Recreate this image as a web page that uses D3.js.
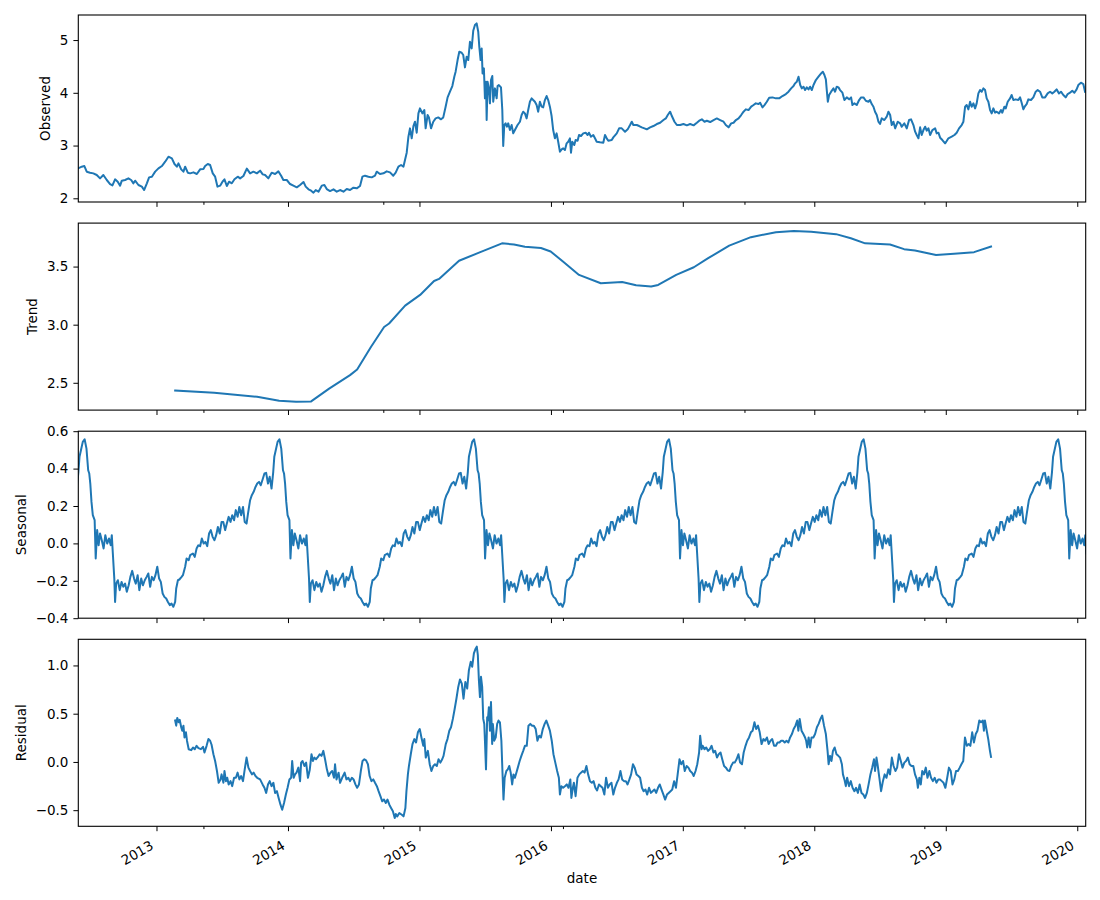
<!DOCTYPE html>
<html>
<head>
<meta charset="utf-8">
<script src="https://cdn.jsdelivr.net/npm/d3@7"></script>
<style>
  body { margin: 0; background: #fff; }
  svg { font-family: "DejaVu Sans", sans-serif; }
</style>
</head>
<body>
<svg id="chart"></svg>
<script>
// values, [decimal year, value]
const observedPoints = [
  [2012.407,2.568],[2012.433,2.600],[2012.453,2.612],[2012.471,2.505],[2012.496,2.486],[2012.521,2.473],[2012.547,2.442],[2012.572,2.378],[2012.597,2.442],[2012.623,2.347],[2012.648,2.271],[2012.666,2.246],[2012.686,2.360],[2012.706,2.315],[2012.724,2.240],[2012.737,2.334],[2012.762,2.347],[2012.787,2.378],[2012.808,2.347],[2012.825,2.284],[2012.838,2.334],[2012.863,2.252],[2012.889,2.221],[2012.906,2.157],[2012.927,2.284],[2012.944,2.397],[2012.965,2.410],[2012.990,2.505],
  [2013.015,2.568],[2013.041,2.612],[2013.066,2.694],[2013.091,2.789],[2013.117,2.757],[2013.137,2.650],[2013.155,2.600],[2013.167,2.663],[2013.188,2.549],[2013.205,2.505],[2013.218,2.600],[2013.238,2.486],[2013.256,2.473],[2013.281,2.492],[2013.307,2.461],[2013.332,2.549],[2013.357,2.555],[2013.370,2.612],[2013.390,2.650],[2013.408,2.631],[2013.428,2.473],[2013.446,2.410],[2013.464,2.221],[2013.484,2.240],[2013.502,2.315],[2013.517,2.360],[2013.535,2.233],[2013.552,2.315],[2013.573,2.284],[2013.593,2.360],[2013.618,2.410],[2013.636,2.378],[2013.661,2.423],[2013.687,2.562],[2013.712,2.473],[2013.737,2.505],[2013.763,2.473],[2013.788,2.524],[2013.808,2.454],[2013.826,2.442],[2013.851,2.378],[2013.876,2.486],[2013.902,2.461],[2013.927,2.511],[2013.948,2.429],[2013.965,2.347],[2013.991,2.347],
  [2014.016,2.271],[2014.041,2.240],[2014.067,2.208],[2014.092,2.252],[2014.118,2.309],[2014.135,2.221],[2014.156,2.170],[2014.176,2.145],[2014.194,2.107],[2014.211,2.157],[2014.232,2.126],[2014.257,2.240],[2014.277,2.252],[2014.295,2.176],[2014.320,2.138],[2014.346,2.170],[2014.371,2.126],[2014.396,2.157],[2014.422,2.126],[2014.447,2.176],[2014.472,2.157],[2014.498,2.202],[2014.523,2.189],[2014.548,2.233],[2014.566,2.410],[2014.586,2.429],[2014.612,2.410],[2014.637,2.397],[2014.662,2.429],[2014.675,2.505],[2014.700,2.461],[2014.726,2.473],[2014.751,2.511],[2014.776,2.492],[2014.801,2.429],[2014.819,2.486],[2014.840,2.600],[2014.860,2.631],[2014.878,2.600],[2014.890,2.726],[2014.903,2.865],[2014.916,3.168],[2014.928,3.326],[2014.941,3.137],[2014.954,3.370],[2014.966,3.452],[2014.979,3.244],[2014.992,3.610],
  [2015.004,3.705],[2015.022,3.610],[2015.037,3.673],[2015.047,3.326],[2015.062,3.579],[2015.072,3.534],[2015.088,3.326],[2015.105,3.452],[2015.123,3.515],[2015.143,3.534],[2015.164,3.497],[2015.181,3.534],[2015.199,3.737],[2015.214,3.913],[2015.232,4.021],[2015.250,4.128],[2015.265,4.305],[2015.275,4.400],[2015.290,4.621],[2015.303,4.779],[2015.321,4.760],[2015.333,4.716],[2015.346,4.482],[2015.359,4.684],[2015.371,4.621],[2015.384,4.968],[2015.397,4.842],[2015.409,5.177],[2015.422,5.284],[2015.435,5.316],[2015.447,5.158],[2015.455,4.874],[2015.465,4.621],[2015.473,4.842],[2015.480,4.368],[2015.490,4.463],[2015.498,3.895],[2015.506,4.210],[2015.511,3.484],[2015.518,4.210],[2015.528,4.084],[2015.536,3.800],[2015.544,4.242],[2015.554,4.318],[2015.561,3.831],[2015.574,4.084],[2015.587,3.895],[2015.594,4.128],[2015.604,4.147],[2015.620,4.103],[2015.630,3.673],[2015.637,2.991],[2015.645,3.389],[2015.655,3.421],[2015.665,3.357],[2015.675,3.421],[2015.688,3.294],[2015.701,3.389],[2015.713,3.231],[2015.726,3.294],[2015.746,3.389],[2015.764,3.452],[2015.777,3.579],[2015.789,3.642],[2015.802,3.610],[2015.815,3.515],[2015.827,3.673],[2015.840,3.831],[2015.853,3.895],[2015.865,3.863],[2015.878,3.831],[2015.891,3.768],[2015.903,3.642],[2015.916,3.831],[2015.929,3.737],[2015.941,3.724],[2015.954,3.863],[2015.967,3.939],[2015.979,3.863],[2015.992,3.737],
  [2016.005,3.560],[2016.017,3.294],[2016.030,3.137],[2016.043,3.231],[2016.055,3.073],[2016.068,2.884],[2016.081,2.928],[2016.093,2.947],[2016.106,2.915],[2016.119,3.042],[2016.131,3.073],[2016.144,3.137],[2016.152,2.865],[2016.162,3.073],[2016.177,3.010],[2016.187,3.105],[2016.202,3.092],[2016.213,3.200],[2016.228,3.181],[2016.245,3.231],[2016.263,3.244],[2016.278,3.200],[2016.288,3.244],[2016.304,3.168],[2016.321,3.200],[2016.334,3.137],[2016.347,3.073],[2016.372,3.061],[2016.397,3.054],[2016.410,3.200],[2016.423,3.137],[2016.435,3.092],[2016.461,3.105],[2016.473,3.155],[2016.499,3.231],[2016.517,3.326],[2016.537,3.326],[2016.562,3.263],[2016.582,3.307],[2016.600,3.389],[2016.613,3.452],[2016.625,3.389],[2016.651,3.389],[2016.669,3.370],[2016.689,3.345],[2016.709,3.326],[2016.727,3.307],[2016.752,3.345],[2016.777,3.370],[2016.803,3.408],[2016.828,3.433],[2016.853,3.484],[2016.871,3.515],[2016.886,3.579],[2016.904,3.642],[2016.917,3.560],[2016.937,3.452],[2016.955,3.389],[2016.980,3.389],
  [2017.005,3.408],[2017.031,3.383],[2017.056,3.408],[2017.082,3.383],[2017.107,3.433],[2017.125,3.471],[2017.145,3.497],[2017.165,3.452],[2017.183,3.471],[2017.208,3.446],[2017.234,3.484],[2017.259,3.515],[2017.284,3.484],[2017.310,3.452],[2017.327,3.389],[2017.348,3.345],[2017.368,3.421],[2017.386,3.433],[2017.404,3.484],[2017.424,3.515],[2017.444,3.579],[2017.462,3.642],[2017.479,3.686],[2017.500,3.673],[2017.520,3.737],[2017.538,3.768],[2017.555,3.800],[2017.576,3.787],[2017.588,3.812],[2017.606,3.724],[2017.621,3.768],[2017.639,3.831],[2017.657,3.907],[2017.682,3.913],[2017.708,3.895],[2017.733,3.895],[2017.758,3.939],[2017.784,3.977],[2017.804,4.021],[2017.824,4.084],[2017.842,4.128],[2017.854,4.179],[2017.867,4.210],[2017.880,4.305],[2017.893,4.147],[2017.905,4.084],[2017.918,4.116],[2017.930,4.052],[2017.943,4.103],[2017.956,4.065],[2017.968,4.116],[2017.981,4.052],[2017.994,4.147],
  [2018.012,4.242],[2018.032,4.305],[2018.052,4.368],[2018.065,4.400],[2018.077,4.337],[2018.088,4.255],[2018.095,4.052],[2018.103,3.831],[2018.113,3.958],[2018.128,4.021],[2018.146,4.084],[2018.158,4.021],[2018.171,4.116],[2018.184,4.103],[2018.196,4.052],[2018.214,4.002],[2018.229,3.863],[2018.247,3.913],[2018.265,3.876],[2018.280,3.913],[2018.290,3.768],[2018.305,3.800],[2018.323,3.768],[2018.341,3.863],[2018.356,3.913],[2018.374,3.913],[2018.392,3.850],[2018.412,3.831],[2018.424,3.863],[2018.437,3.787],[2018.450,3.737],[2018.462,3.642],[2018.475,3.579],[2018.488,3.452],[2018.500,3.408],[2018.513,3.515],[2018.533,3.484],[2018.551,3.547],[2018.564,3.642],[2018.577,3.579],[2018.589,3.389],[2018.602,3.452],[2018.615,3.326],[2018.635,3.452],[2018.653,3.421],[2018.665,3.357],[2018.685,3.421],[2018.703,3.326],[2018.721,3.484],[2018.736,3.497],[2018.754,3.389],[2018.767,3.263],[2018.779,3.200],[2018.792,3.137],[2018.805,3.345],[2018.817,3.200],[2018.830,3.294],[2018.843,3.357],[2018.855,3.282],[2018.868,3.326],[2018.881,3.200],[2018.898,3.294],[2018.919,3.326],[2018.931,3.231],[2018.944,3.244],[2018.957,3.149],[2018.974,3.105],[2018.995,3.042],
  [2019.007,3.086],[2019.020,3.137],[2019.045,3.168],[2019.066,3.200],[2019.083,3.244],[2019.101,3.326],[2019.121,3.389],[2019.134,3.452],[2019.147,3.737],[2019.159,3.768],[2019.172,3.686],[2019.185,3.831],[2019.197,3.737],[2019.210,3.800],[2019.223,3.705],[2019.235,3.800],[2019.248,3.989],[2019.261,4.052],[2019.273,4.021],[2019.286,4.084],[2019.299,4.052],[2019.311,3.895],[2019.324,3.831],[2019.337,3.673],[2019.349,3.610],[2019.362,3.705],[2019.375,3.623],[2019.387,3.642],[2019.405,3.610],[2019.420,3.673],[2019.430,3.623],[2019.446,3.737],[2019.456,3.705],[2019.471,3.831],[2019.489,3.895],[2019.501,3.958],[2019.514,3.863],[2019.532,3.876],[2019.552,3.863],[2019.565,3.913],[2019.577,3.812],[2019.590,3.686],[2019.603,3.749],[2019.615,3.787],[2019.628,3.876],[2019.648,3.863],[2019.666,3.913],[2019.684,4.021],[2019.699,4.052],[2019.717,4.021],[2019.734,3.913],[2019.755,3.913],[2019.775,3.989],[2019.793,4.021],[2019.810,3.989],[2019.826,4.021],[2019.843,4.065],[2019.861,3.989],[2019.876,4.021],[2019.894,3.958],[2019.912,3.913],[2019.927,3.977],[2019.945,4.002],[2019.962,4.040],[2019.978,4.002],[2019.995,4.065],
  [2020.008,4.147],[2020.028,4.191],[2020.046,4.166],[2020.059,4.021]
];

const trendPoints = [
  [2013.142,2.434],[2013.439,2.414],[2013.765,2.380],[2013.933,2.345],[2014.062,2.336],[2014.176,2.340],[2014.313,2.450],[2014.472,2.566],[2014.526,2.615],[2014.632,2.810],[2014.731,2.980],[2014.769,3.010],[2014.891,3.164],
  [2015.005,3.256],[2015.111,3.376],[2015.149,3.394],[2015.301,3.550],[2015.453,3.620],[2015.628,3.700],[2015.719,3.690],[2015.802,3.670],[2015.924,3.660],[2015.998,3.630],
  [2016.091,3.543],[2016.213,3.428],[2016.378,3.356],[2016.540,3.368],[2016.646,3.340],[2016.760,3.328],[2016.813,3.342],[2016.950,3.428],
  [2017.084,3.494],[2017.193,3.572],[2017.353,3.680],[2017.518,3.753],[2017.708,3.796],[2017.844,3.807],[2017.976,3.800],
  [2018.166,3.779],[2018.278,3.744],[2018.387,3.700],[2018.576,3.690],[2018.683,3.650],[2018.766,3.638],[2018.926,3.600],
  [2019.063,3.610],[2019.215,3.624],[2019.344,3.672]
];

// one period of the seasonal component: [years after its peak, value]
const seasonalCycle = [
  [0.000,0.557],[0.014,0.507],[0.027,0.391],[0.035,0.374],[0.043,0.320],[0.052,0.222],[0.062,0.151],[0.076,0.124],[0.084,-0.081],[0.095,0.071],[0.106,-0.010],[0.117,0.053],[0.130,0.017],[0.144,-0.027],[0.157,0.044],[0.171,-0.001],[0.185,0.026],[0.198,-0.010],[0.206,0.044],[0.214,-0.054],[0.225,-0.188],[0.231,-0.313],[0.239,-0.215],[0.252,-0.197],[0.266,-0.250],[0.280,-0.206],[0.293,-0.232],[0.307,-0.215],[0.320,-0.259],[0.334,-0.224],[0.347,-0.179],[0.361,-0.147],[0.375,-0.188],[0.388,-0.215],[0.402,-0.170],[0.415,-0.250],[0.429,-0.188],[0.442,-0.224],[0.456,-0.197],[0.470,-0.179],[0.483,-0.161],[0.497,-0.232],[0.510,-0.179],[0.524,-0.197],[0.537,-0.170],[0.551,-0.125],[0.565,-0.188],[0.578,-0.206],[0.592,-0.268],[0.605,-0.286],[0.619,-0.295],[0.632,-0.313],[0.646,-0.330],[0.660,-0.322],[0.673,-0.339],[0.687,-0.313],[0.695,-0.241],[0.708,-0.197],[0.719,-0.193],[0.736,-0.179],[0.746,-0.170],[0.763,-0.125],[0.774,-0.081],[0.790,-0.090],[0.801,-0.063],[0.822,-0.054],[0.836,-0.072],[0.850,-0.027],[0.863,-0.010],[0.877,-0.015],[0.890,0.026],[0.904,-0.001],[0.917,0.008],[0.931,-0.015],[0.945,0.053],[0.958,0.071],[0.972,0.035],[0.986,0.017],[0.999,0.044],[1.012,0.088],[1.026,0.053],[1.040,0.115],[1.053,0.115],[1.067,0.071],[1.080,0.106],[1.094,0.142],[1.108,0.115],[1.121,0.151],[1.135,0.124],[1.148,0.178],[1.162,0.142],[1.175,0.195],[1.189,0.151],[1.203,0.195],[1.216,0.115],[1.230,0.106],[1.243,0.169],[1.257,0.231],[1.270,0.258],[1.284,0.276],[1.298,0.302],[1.311,0.320],[1.325,0.329],[1.338,0.311],[1.352,0.342],[1.366,0.374],[1.379,0.377],[1.393,0.320],[1.406,0.356],[1.420,0.293],[1.433,0.383],[1.441,0.463],[1.452,0.498],[1.466,0.543]
];
const seasonalFirstPeak = 2012.455;
const seasonalPeriod = 1.48;

const residualPoints = [
  [2013.142,0.429],[2013.150,0.376],[2013.158,0.456],[2013.169,0.411],[2013.177,0.436],[2013.188,0.359],[2013.196,0.324],[2013.205,0.376],[2013.213,0.254],[2013.224,0.307],[2013.232,0.220],[2013.245,0.132],[2013.264,0.122],[2013.278,0.150],[2013.291,0.132],[2013.305,0.167],[2013.319,0.143],[2013.338,0.132],[2013.354,0.157],[2013.365,0.098],[2013.381,0.167],[2013.395,0.237],[2013.408,0.220],[2013.419,0.178],[2013.433,0.080],[2013.446,0.010],[2013.460,-0.094],[2013.473,-0.216],[2013.487,-0.181],[2013.495,-0.129],[2013.509,-0.216],[2013.517,-0.094],[2013.528,-0.199],[2013.538,-0.164],[2013.549,-0.233],[2013.563,-0.199],[2013.576,-0.251],[2013.590,-0.164],[2013.604,-0.164],[2013.617,-0.111],[2013.631,-0.181],[2013.644,-0.146],[2013.658,-0.199],[2013.671,-0.077],[2013.685,0.045],[2013.699,-0.059],[2013.712,-0.094],[2013.726,-0.129],[2013.739,-0.111],[2013.753,-0.146],[2013.766,-0.164],[2013.788,-0.181],[2013.807,-0.233],[2013.821,-0.268],[2013.834,-0.321],[2013.848,-0.233],[2013.861,-0.199],[2013.875,-0.251],[2013.889,-0.216],[2013.902,-0.321],[2013.916,-0.303],[2013.929,-0.373],[2013.943,-0.443],[2013.956,-0.495],[2013.970,-0.425],[2013.984,-0.338],[2013.997,-0.268],
  [2014.011,-0.181],[2014.024,-0.164],[2014.032,0.010],[2014.043,-0.164],[2014.054,-0.129],[2014.065,-0.111],[2014.079,-0.059],[2014.092,-0.199],[2014.100,-0.007],[2014.111,0.010],[2014.125,-0.042],[2014.138,-0.007],[2014.152,-0.164],[2014.165,-0.087],[2014.179,0.080],[2014.190,0.010],[2014.201,0.045],[2014.214,0.028],[2014.228,0.052],[2014.241,0.080],[2014.255,0.063],[2014.269,0.115],[2014.282,0.028],[2014.296,-0.077],[2014.309,-0.146],[2014.323,-0.111],[2014.336,-0.094],[2014.350,-0.164],[2014.358,-0.024],[2014.369,-0.181],[2014.385,-0.111],[2014.396,-0.216],[2014.412,-0.164],[2014.431,-0.111],[2014.445,-0.181],[2014.459,-0.164],[2014.472,-0.199],[2014.486,-0.164],[2014.499,-0.181],[2014.513,-0.233],[2014.526,-0.268],[2014.540,-0.233],[2014.554,-0.094],[2014.567,0.010],[2014.581,0.028],[2014.594,0.017],[2014.608,-0.024],[2014.621,-0.146],[2014.635,-0.199],[2014.649,-0.181],[2014.662,-0.216],[2014.676,-0.251],[2014.689,-0.303],[2014.703,-0.355],[2014.717,-0.408],[2014.730,-0.390],[2014.744,-0.425],[2014.757,-0.390],[2014.771,-0.443],[2014.784,-0.477],[2014.798,-0.512],[2014.812,-0.582],[2014.820,-0.540],[2014.831,-0.564],[2014.847,-0.530],[2014.866,-0.547],[2014.879,-0.564],[2014.893,-0.477],[2014.901,-0.303],[2014.912,-0.129],[2014.920,-0.042],[2014.934,0.080],[2014.947,0.185],[2014.961,0.237],[2014.974,0.202],[2014.988,0.307],
  [2015.002,0.341],[2015.015,0.254],[2015.029,0.167],[2015.037,0.237],[2015.048,0.045],[2015.064,0.115],[2015.078,-0.024],[2015.091,-0.094],[2015.105,-0.042],[2015.118,-0.024],[2015.132,-0.042],[2015.145,0.028],[2015.159,-0.007],[2015.173,0.028],[2015.183,0.063],[2015.200,0.185],[2015.213,0.237],[2015.227,0.324],[2015.240,0.359],[2015.254,0.446],[2015.268,0.551],[2015.281,0.655],[2015.295,0.777],[2015.308,0.854],[2015.322,0.812],[2015.335,0.655],[2015.349,0.829],[2015.363,0.760],[2015.376,0.951],[2015.390,1.038],[2015.401,0.986],[2015.414,1.125],[2015.425,1.167],[2015.436,1.195],[2015.444,1.108],[2015.452,0.847],[2015.460,0.672],[2015.468,0.882],[2015.477,0.777],[2015.485,0.446],[2015.493,0.394],[2015.498,0.220],[2015.506,-0.077],[2015.515,0.463],[2015.520,0.429],[2015.528,0.568],[2015.536,0.324],[2015.544,0.620],[2015.553,0.185],[2015.558,0.394],[2015.569,0.220],[2015.580,0.254],[2015.591,0.394],[2015.601,0.429],[2015.612,0.411],[2015.623,0.220],[2015.631,-0.094],[2015.639,-0.390],[2015.648,-0.164],[2015.661,-0.094],[2015.672,-0.077],[2015.683,-0.042],[2015.694,-0.111],[2015.705,-0.233],[2015.715,-0.129],[2015.726,-0.164],[2015.737,-0.111],[2015.748,-0.059],[2015.762,0.010],[2015.775,0.063],[2015.789,0.115],[2015.802,0.167],[2015.816,0.167],[2015.829,0.376],[2015.843,0.394],[2015.857,0.376],[2015.870,0.376],[2015.884,0.341],[2015.897,0.220],[2015.911,0.272],[2015.924,0.254],[2015.938,0.341],[2015.952,0.394],[2015.965,0.429],[2015.979,0.376],[2015.992,0.324],
  [2016.006,0.220],[2016.019,0.080],[2016.033,-0.007],[2016.047,-0.094],[2016.060,-0.164],[2016.068,-0.338],[2016.079,-0.251],[2016.092,-0.268],[2016.106,-0.251],[2016.120,-0.233],[2016.133,-0.268],[2016.147,-0.181],[2016.155,-0.373],[2016.166,-0.268],[2016.174,-0.216],[2016.187,-0.355],[2016.201,-0.164],[2016.215,-0.129],[2016.228,-0.111],[2016.242,-0.094],[2016.255,-0.111],[2016.269,-0.042],[2016.282,-0.129],[2016.296,-0.199],[2016.310,-0.216],[2016.323,-0.199],[2016.337,-0.268],[2016.350,-0.296],[2016.364,-0.233],[2016.378,-0.251],[2016.391,-0.268],[2016.405,-0.338],[2016.418,-0.164],[2016.432,-0.268],[2016.445,-0.233],[2016.459,-0.216],[2016.473,-0.338],[2016.486,-0.268],[2016.500,-0.216],[2016.513,-0.181],[2016.527,-0.094],[2016.540,-0.181],[2016.554,-0.199],[2016.568,-0.199],[2016.581,-0.233],[2016.595,-0.181],[2016.608,-0.129],[2016.622,-0.024],[2016.635,-0.059],[2016.649,-0.129],[2016.663,-0.146],[2016.676,-0.164],[2016.690,-0.268],[2016.703,-0.303],[2016.717,-0.286],[2016.730,-0.338],[2016.744,-0.268],[2016.758,-0.321],[2016.771,-0.303],[2016.785,-0.286],[2016.798,-0.321],[2016.812,-0.268],[2016.825,-0.233],[2016.839,-0.286],[2016.853,-0.338],[2016.866,-0.390],[2016.880,-0.338],[2016.893,-0.321],[2016.907,-0.303],[2016.920,-0.286],[2016.934,-0.199],[2016.948,-0.268],[2016.961,-0.129],[2016.975,0.028],[2016.988,-0.024],
  [2017.002,0.010],[2017.015,-0.094],[2017.029,-0.042],[2017.043,-0.059],[2017.056,-0.094],[2017.070,-0.111],[2017.083,-0.146],[2017.097,-0.094],[2017.110,-0.024],[2017.124,0.098],[2017.132,0.272],[2017.143,0.132],[2017.151,0.167],[2017.165,0.132],[2017.178,0.150],[2017.192,0.115],[2017.205,0.132],[2017.219,0.167],[2017.233,0.098],[2017.246,0.115],[2017.260,0.045],[2017.273,0.080],[2017.287,0.098],[2017.300,0.028],[2017.314,-0.042],[2017.328,-0.059],[2017.341,-0.087],[2017.355,-0.094],[2017.368,-0.042],[2017.382,-0.007],[2017.395,-0.007],[2017.409,0.028],[2017.423,0.080],[2017.436,-0.007],[2017.450,-0.024],[2017.463,0.098],[2017.477,0.167],[2017.490,0.220],[2017.504,0.254],[2017.518,0.307],[2017.531,0.324],[2017.545,0.411],[2017.558,0.341],[2017.572,0.376],[2017.585,0.307],[2017.599,0.185],[2017.613,0.237],[2017.626,0.220],[2017.640,0.254],[2017.653,0.185],[2017.667,0.220],[2017.680,0.237],[2017.694,0.167],[2017.708,0.167],[2017.721,0.202],[2017.735,0.202],[2017.748,0.220],[2017.762,0.220],[2017.775,0.202],[2017.789,0.220],[2017.803,0.202],[2017.816,0.254],[2017.830,0.289],[2017.843,0.341],[2017.857,0.376],[2017.870,0.429],[2017.879,0.324],[2017.889,0.446],[2017.903,0.324],[2017.917,0.289],[2017.930,0.254],[2017.938,0.220],[2017.946,0.150],[2017.957,0.254],[2017.968,0.150],[2017.979,0.254],[2017.993,0.254],
  [2018.006,0.289],[2018.020,0.359],[2018.033,0.394],[2018.047,0.446],[2018.060,0.481],[2018.074,0.376],[2018.088,0.289],[2018.101,0.115],[2018.109,-0.024],[2018.120,0.063],[2018.131,0.010],[2018.142,0.115],[2018.155,0.150],[2018.169,0.080],[2018.183,0.063],[2018.196,0.045],[2018.210,-0.024],[2018.218,-0.129],[2018.229,-0.181],[2018.240,-0.251],[2018.250,-0.164],[2018.264,-0.251],[2018.278,-0.199],[2018.291,-0.268],[2018.305,-0.303],[2018.318,-0.268],[2018.332,-0.321],[2018.345,-0.233],[2018.359,-0.321],[2018.373,-0.338],[2018.386,-0.373],[2018.400,-0.321],[2018.413,-0.233],[2018.427,-0.129],[2018.440,-0.059],[2018.454,0.028],[2018.462,-0.094],[2018.473,0.045],[2018.481,-0.024],[2018.495,-0.164],[2018.508,-0.303],[2018.522,-0.199],[2018.535,-0.129],[2018.549,-0.164],[2018.563,-0.077],[2018.576,-0.129],[2018.590,0.045],[2018.603,-0.042],[2018.617,-0.094],[2018.630,-0.059],[2018.644,0.080],[2018.658,0.010],[2018.671,-0.059],[2018.685,-0.007],[2018.698,0.010],[2018.712,0.045],[2018.725,-0.024],[2018.739,-0.042],[2018.753,-0.042],[2018.766,-0.129],[2018.780,-0.181],[2018.788,-0.268],[2018.799,-0.164],[2018.810,-0.233],[2018.821,-0.094],[2018.834,-0.129],[2018.848,-0.059],[2018.861,-0.164],[2018.875,-0.094],[2018.888,-0.164],[2018.902,-0.199],[2018.916,-0.164],[2018.929,-0.216],[2018.943,-0.181],[2018.956,-0.181],[2018.970,-0.199],[2018.983,-0.216],[2018.997,-0.268],
  [2019.011,-0.164],[2019.024,-0.059],[2019.038,-0.094],[2019.051,-0.233],[2019.065,-0.181],[2019.078,-0.094],[2019.092,-0.094],[2019.106,-0.059],[2019.119,-0.024],[2019.133,0.010],[2019.146,0.254],[2019.160,0.167],[2019.173,0.185],[2019.187,0.167],[2019.201,0.307],[2019.214,0.202],[2019.228,0.289],[2019.241,0.324],[2019.255,0.429],[2019.268,0.411],[2019.282,0.429],[2019.290,0.324],[2019.298,0.429],[2019.309,0.341],[2019.323,0.237],[2019.336,0.115],[2019.344,0.052]
];

const yearTicks = [2013, 2014, 2015, 2016, 2017, 2018, 2019, 2020];
const minorTicks = [2013.357, 2014.725, 2016.091, 2017.469, 2018.837];
const xStart = 2012.407, xEnd = 2020.064;

const panelNames = ["Observed", "Trend", "Seasonal", "Residual"];
const yDomains = [[1.93, 5.475], [2.265, 3.874], [-0.40, 0.60], [-0.667, 1.271]];
const yTickValues = [[2, 3, 4, 5], [2.5, 3.0, 3.5], [-0.4, -0.2, 0.0, 0.2, 0.4, 0.6], [-0.5, 0.0, 0.5, 1.0]];
const yTickFormats = ["d", ".1f", ".1f", ".1f"];

// decimal year -> Date
function toDate(t) {
  const y = Math.floor(t);
  const a = Date.UTC(y, 0, 1), b = Date.UTC(y + 1, 0, 1);
  return new Date(a + (t - y) * (b - a));
}

// seasonal: repeat the measured cycle over the observed span
const seasonalPoints = [];
for (let k = -1; k <= 6; k++) {
  seasonalCycle.forEach(([off, v]) => {
    const t = seasonalFirstPeak + k * seasonalPeriod + off;
    if (t >= xStart - 0.02 && t <= observedPoints[observedPoints.length - 1][0] + 0.02) seasonalPoints.push([t, v]);
  });
}

const series = [observedPoints, trendPoints, seasonalPoints, residualPoints];

const W = 1100, H = 900;
const left = 78.3, right = 1085.7;
const top0 = 15, panelH = 187, panelStep = 208.1;
const fontSize = 13.5;
const blue = "#1f77b4";

const svg = d3.select("#chart").attr("width", W).attr("height", H);

const x = d3.scaleUtc().domain([toDate(xStart), toDate(xEnd)]).range([left, right]);

panelNames.forEach((name, i) => {
  const top = top0 + i * panelStep, bottom = top + panelH;
  const y = d3.scaleLinear().domain(yDomains[i]).range([bottom, top]);
  const g = svg.append("g");

  g.append("clipPath").attr("id", "clip" + i)
    .append("rect").attr("x", left).attr("y", top).attr("width", right - left).attr("height", panelH);

  const line = d3.line().x(d => x(toDate(d[0]))).y(d => y(d[1]));
  g.append("path")
    .datum(series[i])
    .attr("clip-path", `url(#clip${i})`)
    .attr("d", line)
    .attr("fill", "none")
    .attr("stroke", blue)
    .attr("stroke-width", 2)
    .attr("stroke-linejoin", "round")
    .attr("stroke-linecap", "square");

  // y axis
  const fmt = d3.format(yTickFormats[i]);
  const yAxis = g.append("g").attr("transform", `translate(${left},0)`)
    .call(d3.axisLeft(y).tickValues(yTickValues[i])
      .tickFormat(d => fmt(d).replace("-", "\u2212")).tickSize(4.9).tickPadding(5));
  yAxis.select(".domain").remove();
  yAxis.selectAll("line").attr("stroke", "#000").attr("stroke-width", 1);
  yAxis.selectAll("text").attr("font-size", fontSize).attr("fill", "#000")
    .attr("font-family", "DejaVu Sans");

  // x axis (major + minor)
  const xAxis = g.append("g").attr("transform", `translate(0,${bottom})`)
    .call(d3.axisBottom(x).tickValues(yearTicks.map(toDate))
      .tickFormat(i === 3 ? d3.utcFormat("%Y") : () => "").tickSize(4.9));
  xAxis.select(".domain").remove();
  xAxis.selectAll("line").attr("stroke", "#000").attr("stroke-width", 1);
  if (i === 3) {
    xAxis.selectAll("text")
      .attr("font-size", fontSize).attr("fill", "#000").attr("font-family", "DejaVu Sans")
      .attr("x", null).attr("y", null).attr("dy", null)
      .attr("text-anchor", "end")
      .attr("transform", "translate(-2.5,22) rotate(-30)");
  }
  const minorAxis = g.append("g").attr("transform", `translate(0,${bottom})`)
    .call(d3.axisBottom(x).tickValues(minorTicks.map(toDate)).tickFormat(() => "").tickSize(2.8));
  minorAxis.select(".domain").remove();
  minorAxis.selectAll("line").attr("stroke", "#000").attr("stroke-width", 1);

  // frame
  g.append("rect")
    .attr("x", left).attr("y", top).attr("width", right - left).attr("height", panelH)
    .attr("fill", "none").attr("stroke", "#000").attr("stroke-width", 1.1);

  // y label placed left of the tick labels
  let minX = Infinity;
  yAxis.selectAll("text").each(function () {
    const b = this.getBBox();
    const m = this.getCTM();
    minX = Math.min(minX, b.x + m.e);
  });
  const lx = minX - 9.5;
  g.append("text")
    .attr("transform", `translate(${lx},${(top + bottom) / 2}) rotate(-90)`)
    .attr("text-anchor", "middle")
    .attr("font-size", fontSize)
    .attr("fill", "#000")
    .text(name);
});

svg.append("text")
  .attr("x", (left + right) / 2)
  .attr("y", 883)
  .attr("text-anchor", "middle")
  .attr("font-size", fontSize)
  .attr("fill", "#000")
  .text("date");
</script>
</body>
</html>
